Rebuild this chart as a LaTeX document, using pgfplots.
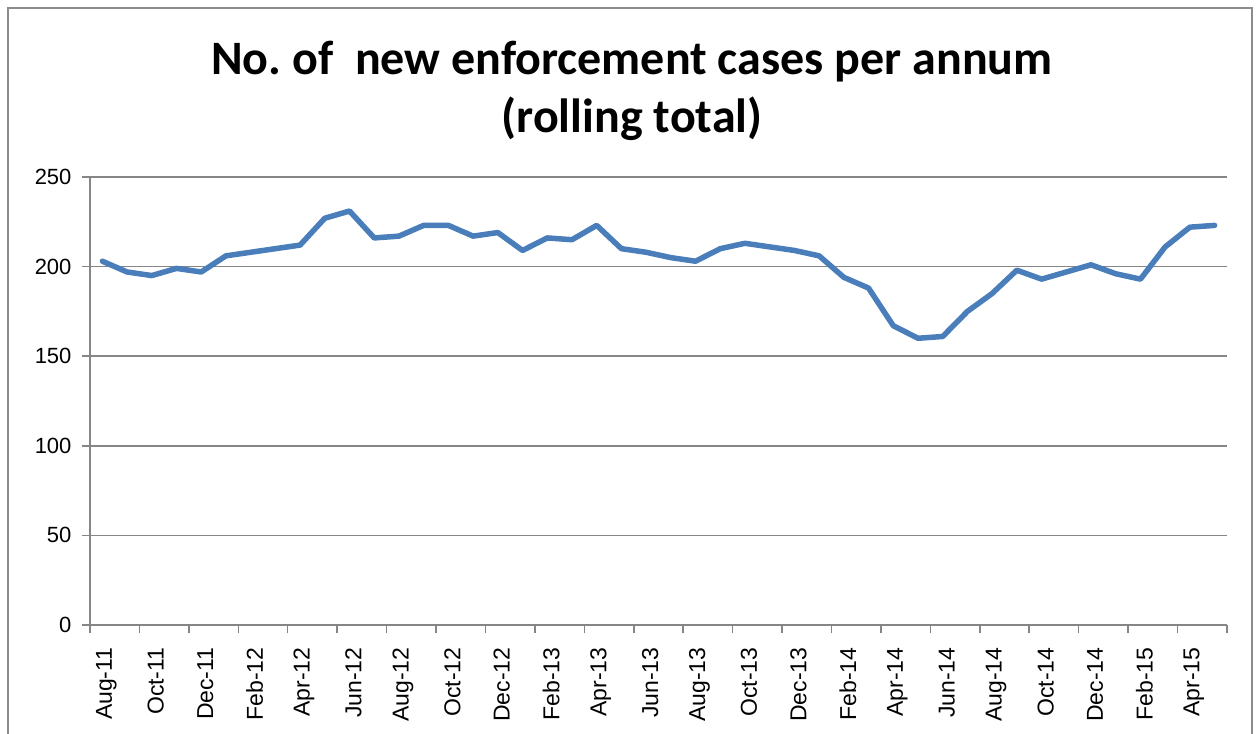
\documentclass[border=0pt]{standalone}
\usepackage{fontspec}
\setmainfont{Liberation Sans}
\newfontfamily\titlefont{Carlito}
\usepackage{pgfplots}
\usepackage{pgfplotstable}
\pgfplotsset{compat=1.18}
\definecolor{lineblue}{HTML}{4A7EBB}
\definecolor{axisgray}{HTML}{868686}
\definecolor{bordergray}{HTML}{8C8C8C}

% month index (0 = Aug-11), rolling annual total
\pgfplotstableread{
m  cases
0  203
1  197
2  195
3  199
4  197
5  206
6  208
7  210
8  212
9  227
10 231
11 216
12 217
13 223
14 223
15 217
16 219
17 209
18 216
19 215
20 223
21 210
22 208
23 205
24 203
25 210
26 213
27 211
28 209
29 206
30 194
31 188
32 167
33 160
34 161
35 175
36 185
37 198
38 193
39 197
40 201
41 196
42 193
43 211
44 222
45 223
}\cases

\begin{document}
\begin{tikzpicture}
\path[use as bounding box] (-90pt,-108pt) rectangle (1167pt,625pt);
% chart frame (bottom edge lies outside the picture)
\draw[bordergray, line width=2pt] (-82pt,-120pt) -- (-82pt,617pt) -- (1162pt,617pt) -- (1162pt,-120pt);
\node[anchor=base, font=\titlefont\bfseries\fontsize{48}{58}\selectfont] at (542pt,550pt) {No.\ of\ \ new enforcement cases per annum};
\node[anchor=base, font=\titlefont\bfseries\fontsize{48}{58}\selectfont] at (542pt,492pt) {(rolling total)};
\begin{axis}[
  at={(0pt,0pt)}, anchor=south west,
  scale only axis, width=1137pt, height=448pt,
  xmin=-0.5, xmax=45.5, ymin=0, ymax=250,
  axis x line*=bottom, axis y line*=left,
  axis line style={draw=axisgray, line width=1.5pt, -},
  tick align=outside, major tick length=8pt,
  tick style={draw=axisgray, line width=1.5pt},
  ytick={0,50,...,250},
  ymajorgrids, grid style={draw=axisgray, line width=1.5pt},
  xtick={-0.5,1.5,...,45.5}, xticklabels={},
  extra x ticks={0,2,...,44},
  extra x tick labels={Aug-11,Oct-11,Dec-11,Feb-12,Apr-12,Jun-12,Aug-12,Oct-12,Dec-12,Feb-13,Apr-13,Jun-13,Aug-13,Oct-13,Dec-13,Feb-14,Apr-14,Jun-14,Aug-14,Oct-14,Dec-14,Feb-15,Apr-15},
  extra x tick style={major tick length=0pt, grid=none,
    xticklabel style={xshift=4pt, yshift=-19pt, rotate=90, anchor=east, font=\fontsize{23}{27}\selectfont}},
  tick label style={font=\fontsize{22}{26}\selectfont},
  yticklabel style={xshift=-7pt},
  /pgf/number format/assume math mode=true,
  clip=false,
]
\addplot[lineblue, line width=5.5pt, line join=round, line cap=round] table[x=m, y=cases] {\cases};
\end{axis}
\end{tikzpicture}
\end{document}
